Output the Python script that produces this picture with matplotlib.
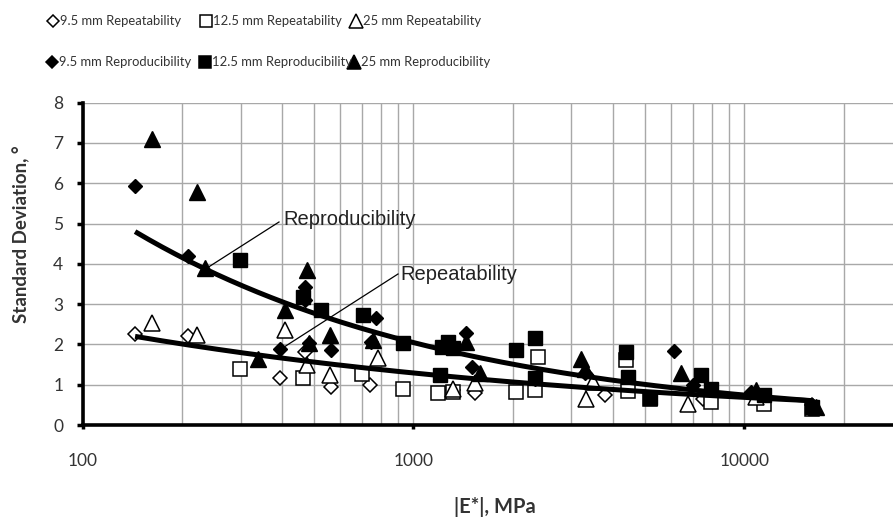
import numpy as np
import matplotlib
matplotlib.use("Agg")
import matplotlib.pyplot as plt
from matplotlib.lines import Line2D
from matplotlib.ticker import LogLocator, FixedLocator, FixedFormatter, NullFormatter

# ---- data: |E*| (MPa) and standard deviation (deg) ----
rep95_x = [144, 208, 394, 470, 565, 738, 1315, 1531, 3787, 7500, 16000]
rep95_y = [2.27, 2.22, 1.16, 1.82, 0.95, 1.00, 0.87, 0.80, 0.74, 0.65, 0.50]

rep125_x = [299, 463, 697, 931, 1183, 1315, 2046, 2330, 2380, 4395, 4440, 5180, 7943, 11500, 16000]
rep125_y = [1.38, 1.16, 1.27, 0.89, 0.80, 0.82, 0.83, 0.87, 1.68, 1.62, 0.85, 0.65, 0.58, 0.52, 0.40]

rep25_x = [162, 221, 408, 475, 560, 782, 1315, 1531, 3335, 3500, 6760, 10870]
rep25_y = [2.54, 2.23, 2.37, 1.49, 1.24, 1.67, 0.90, 1.05, 0.65, 1.07, 0.52, 0.70]

repro95_x = [144, 208, 394, 470, 470, 484, 565, 746, 773, 1445, 1500, 2330, 3300, 6150, 7000, 10500, 16000]
repro95_y = [5.93, 4.19, 1.88, 3.43, 3.10, 2.03, 1.86, 2.07, 2.65, 2.28, 1.45, 1.15, 1.30, 1.84, 1.00, 0.82, 0.50]

repro125_x = [299, 463, 527, 705, 931, 1200, 1216, 1270, 1315, 2046, 2330, 2330, 4395, 4440, 5180, 7413, 7943, 11500, 16000]
repro125_y = [4.09, 3.18, 2.85, 2.73, 2.03, 1.24, 1.94, 2.07, 1.91, 1.86, 2.15, 1.17, 1.82, 1.20, 0.68, 1.25, 0.90, 0.74, 0.45]

repro25_x = [162, 221, 234, 340, 408, 475, 484, 560, 755, 1445, 1585, 3220, 3300, 6450, 10870, 16500]
repro25_y = [7.09, 5.79, 3.89, 1.65, 2.85, 3.85, 2.03, 2.23, 2.11, 2.05, 1.28, 1.65, 1.40, 1.30, 0.87, 0.45]

# power-law trend lines: y = a * (x / x0) ** b
trend_x0 = 144
trend_range = (144, 16000)
trend_repro = (4.8, -0.44)
trend_rep = (2.2, -0.275)

x_ticks = [100, 1000, 10000]
x_tick_labels = ["100", "1000", "10000"]
y_ticks = [0, 1, 2, 3, 4, 5, 6, 7, 8]

W, H = 893, 519
fig = plt.figure(figsize=(W / 100, H / 100), dpi=100)
fig.patch.set_facecolor("white")

x0, x1 = 82.7, 1075.0
y0, y1 = 425.0, 102.7
ax = fig.add_axes([x0 / W, 1 - y0 / H, (x1 - x0) / W, (y0 - y1) / H])
ax.set_xscale("log")
ax.set_xlim(100, 100000)
ax.set_ylim(0, 8)

grid_c = "#a8a8a8"
ax.xaxis.set_major_locator(FixedLocator(x_ticks))
ax.xaxis.set_major_formatter(FixedFormatter(x_tick_labels))
ax.xaxis.set_minor_locator(LogLocator(base=10, subs=np.arange(2, 10)))
ax.xaxis.set_minor_formatter(NullFormatter())
ax.set_yticks(y_ticks)
ax.grid(True, which="both", axis="x", color=grid_c, lw=1.0)
ax.grid(True, which="major", axis="y", color=grid_c, lw=1.0)
ax.set_axisbelow(True)

for s in ["top", "right"]:
    ax.spines[s].set_visible(False)
for s in ["left", "bottom"]:
    ax.spines[s].set_linewidth(2.6)
    ax.spines[s].set_color("black")

tick_font = "Lato"
ax.tick_params(axis="x", which="major", direction="out", length=3, width=2.5,
               pad=17, labelsize=12.5, colors="black")
ax.tick_params(axis="x", which="minor", length=0)
ax.tick_params(axis="y", which="major", direction="out", length=4, width=2.5,
               pad=10, labelsize=12.5)
for lab in ax.get_xticklabels() + ax.get_yticklabels():
    lab.set_fontfamily(tick_font)
    lab.set_color("#333333")

series = [
    (rep95_x, rep95_y, dict(marker="D", ms=7.3, mfc="white", mec="black", mew=1.1)),
    (rep125_x, rep125_y, dict(marker="s", ms=10.5, mfc="white", mec="black", mew=1.1)),
    (rep25_x, rep25_y, dict(marker="^", ms=11, mfc="white", mec="black", mew=1.1)),
    (repro95_x, repro95_y, dict(marker="D", ms=7.3, mfc="black", mec="black", mew=1.0)),
    (repro125_x, repro125_y, dict(marker="s", ms=10.5, mfc="black", mec="black", mew=1.0)),
    (repro25_x, repro25_y, dict(marker="^", ms=11, mfc="black", mec="black", mew=1.0)),
]
for xs, ys, st in series:
    ax.plot(xs, ys, ls="none", zorder=3, **st)

xt = np.logspace(np.log10(trend_range[0]), np.log10(trend_range[1]), 200)
for a, b in (trend_repro, trend_rep):
    ax.plot(xt, a * (xt / trend_x0) ** b, color="black", lw=3.6, zorder=4,
            solid_capstyle="butt")

# callout labels for the trend lines
ann_font = "Liberation Sans"
fig.add_artist(Line2D([207 / W, 279 / W], [1 - 268 / H, 1 - 222 / H], color="black", lw=0.9))
fig.text(283 / W, 1 - 219 / H, "Reproducibility", fontsize=14.5, family=ann_font,
         va="center", ha="left", color="#222222")
fig.add_artist(Line2D([281 / W, 398 / W], [1 - 349 / H, 1 - 274 / H], color="black", lw=0.9))
fig.text(400 / W, 1 - 275 / H, "Repeatability", fontsize=14.5, family=ann_font,
         va="center", ha="left", color="#222222")

# axis titles
fig.text(21 / W, 1 - 234 / H, "Standard Deviation, \u00b0", rotation=90, fontsize=13.5,
         fontweight="bold", family=tick_font, ha="center", va="center", color="#333333")
fig.text(495 / W, 1 - 507 / H, "|E*|, MPa", fontsize=14.5, fontweight="bold",
         family=tick_font, ha="center", va="center", color="#333333")

# legend, two rows of three entries
legend_rows = [
    [(53, "D", "white", 6.0, "9.5 mm Repeatability"),
     (206, "s", "white", 9.0, "12.5 mm Repeatability"),
     (356, "^", "white", 9.5, "25 mm Repeatability")],
    [(52, "D", "black", 6.0, "9.5 mm Reproducibility"),
     (205, "s", "black", 9.0, "12.5 mm Reproducibility"),
     (354, "^", "black", 9.5, "25 mm Reproducibility")],
]
row_y = [21, 62]
for ry, row in zip(row_y, legend_rows):
    for mx, mk, fc, ms, label in row:
        fig.add_artist(Line2D([mx / W], [1 - ry / H], marker=mk, ms=ms, mfc=fc,
                              mec="black", mew=1.1, ls="none"))
        fig.text((mx + 7) / W, 1 - ry / H, label, fontsize=9.4, family=tick_font,
                 ha="left", va="center", color="#333333")

fig.savefig("out.png", dpi=100, facecolor="white")
